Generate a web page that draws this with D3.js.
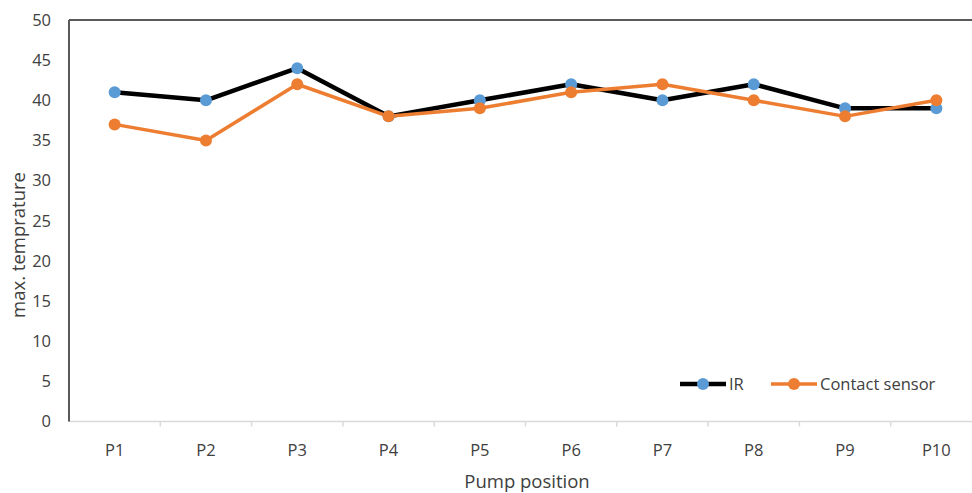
<!DOCTYPE html>
<html>
<head>
<meta charset="utf-8">
<script src="https://cdn.jsdelivr.net/npm/d3@7"></script>
<style>
  body { margin: 0; background: #fff; }
  svg { font-family: "Open Sans", Lato, sans-serif; }
</style>
</head>
<body>
<div id="container"></div>
<script>
// data
const positions = ["P1", "P2", "P3", "P4", "P5", "P6", "P7", "P8", "P9", "P10"];
const irValues = [41, 40, 44, 38, 40, 42, 40, 42, 39, 39];
const contactValues = [37, 35, 42, 38, 39, 41, 42, 40, 38, 40];
const yTicks = [0, 5, 10, 15, 20, 25, 30, 35, 40, 45, 50];

const width = 972, height = 493;
const margins = { top: 20, left: 69, bottom: 71 };
const plotRight = 982; // reference is cropped on the right

const svg = d3.select("#container").append("svg")
  .attr("width", width)
  .attr("height", height);

const xScale = d3.scaleBand()
  .domain(positions)
  .range([margins.left, plotRight]);

const yScale = d3.scaleLinear()
  .domain([0, 50])
  .range([height - margins.bottom - 0.5, margins.top]);

// x axis line + ticks (light grey)
svg.append("line")
  .attr("x1", margins.left).attr("x2", plotRight)
  .attr("y1", yScale(0)).attr("y2", yScale(0))
  .attr("stroke", "#d9d9d9").attr("stroke-width", 1.5);

svg.selectAll("line.xtick")
  .data(positions.slice(1))
  .join("line")
  .attr("class", "xtick")
  .attr("x1", d => xScale(d)).attr("x2", d => xScale(d))
  .attr("y1", yScale(0)).attr("y2", yScale(0) + 5)
  .attr("stroke", "#d9d9d9").attr("stroke-width", 1.5);

// top border and y axis (dark grey)
svg.append("line")
  .attr("x1", margins.left).attr("x2", plotRight)
  .attr("y1", yScale(50)).attr("y2", yScale(50))
  .attr("stroke", "#595959").attr("stroke-width", 2);

svg.append("line")
  .attr("x1", margins.left).attr("x2", margins.left)
  .attr("y1", yScale(50)).attr("y2", yScale(0))
  .attr("stroke", "#595959").attr("stroke-width", 2);

// y tick labels
svg.selectAll("text.ytick")
  .data(yTicks)
  .join("text")
  .attr("class", "ytick")
  .attr("x", 51)
  .attr("y", d => yScale(d))
  .attr("dy", "0.35em")
  .attr("text-anchor", "end")
  .attr("font-size", 16.5)
  .attr("fill", "#404040")
  .text(d => d);

// x tick labels
svg.selectAll("text.xlabel")
  .data(positions)
  .join("text")
  .attr("class", "xlabel")
  .attr("x", d => xScale(d) + xScale.bandwidth() / 2)
  .attr("y", 456)
  .attr("text-anchor", "middle")
  .attr("font-size", 16.5)
  .attr("fill", "#404040")
  .text(d => d);

// axis titles
svg.append("text")
  .attr("x", 527).attr("y", 488)
  .attr("text-anchor", "middle")
  .attr("font-size", 18.5)
  .attr("fill", "#404040")
  .text("Pump position");

svg.append("text")
  .attr("transform", "translate(25,245) rotate(-90)")
  .attr("text-anchor", "middle")
  .attr("font-size", 18.5)
  .attr("fill", "#404040")
  .text("max. temprature");

// series
const series = [
  { name: "IR", values: irValues, line: "#000000", dot: "#5b9bd5", lx: 680, lw: 46 },
  { name: "Contact sensor", values: contactValues, line: "#ed7d31", dot: "#ed7d31", lx: 771, lw: 46 }
];

const lineGen = d3.line()
  .x((d, i) => xScale(positions[i]) + xScale.bandwidth() / 2)
  .y(d => yScale(d));

series.forEach(s => {
  svg.append("path")
    .datum(s.values)
    .attr("d", lineGen)
    .attr("fill", "none")
    .attr("stroke", s.line)
    .attr("stroke-width", s.name === "IR" ? 4.5 : 3.5)
    .attr("stroke-linejoin", "round");
});

series.forEach(s => {
  svg.selectAll(null)
    .data(s.values)
    .join("circle")
    .attr("cx", (d, i) => xScale(positions[i]) + xScale.bandwidth() / 2)
    .attr("cy", d => yScale(d))
    .attr("r", 6)
    .attr("fill", s.dot);
});

// legend
const legendY = 384;
series.forEach(s => {
  const g = svg.append("g");
  g.append("line")
    .attr("x1", s.lx).attr("x2", s.lx + s.lw)
    .attr("y1", legendY).attr("y2", legendY)
    .attr("stroke", s.line).attr("stroke-width", s.name === "IR" ? 4.5 : 3.5);
  g.append("circle")
    .attr("cx", s.lx + s.lw / 2).attr("cy", legendY)
    .attr("r", 6).attr("fill", s.dot);
  g.append("text")
    .attr("x", s.lx + s.lw + 3).attr("y", legendY)
    .attr("dy", "0.35em")
    .attr("font-size", 16.5)
    .attr("fill", "#404040")
    .text(s.name);
});
</script>
</body>
</html>
